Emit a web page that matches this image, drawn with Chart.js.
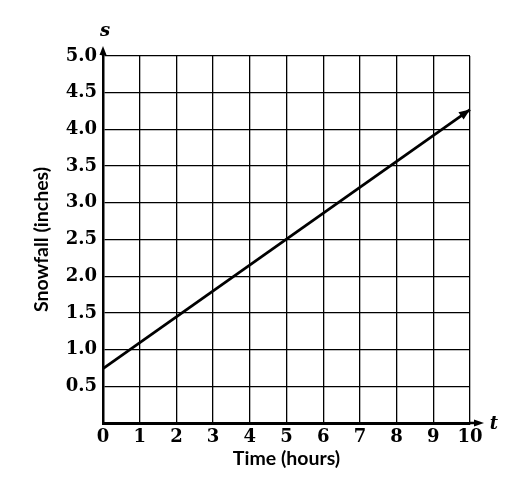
<!DOCTYPE html>
<html><head><meta charset="utf-8">
<script src="https://cdn.jsdelivr.net/npm/chart.js@4.4.1/dist/chart.umd.min.js"></script>
<style>html,body{margin:0;padding:0;background:#fff;}#wrap{width:514px;height:478px;position:relative;}</style>
</head><body><div id="wrap"><canvas id="c"></canvas></div>
<script>
const timeHours = [0, 10];
const snowfall = [0.74, 4.27];
const xTicks = [0,1,2,3,4,5,6,7,8,9,10];
const yTicks = [0.5,1.0,1.5,2.0,2.5,3.0,3.5,4.0,4.5,5.0];
const xTitle = 'Time (hours)';
const yTitle = 'Snowfall (inches)';
const xVar = 't';
const yVar = 's';

const decor = {
  id: 'decor',
  afterDraw(chart) {
    const ctx = chart.ctx, a = chart.chartArea;
    const xs = chart.scales.x, ys = chart.scales.y;
    ctx.save();
    ctx.fillStyle = '#000'; ctx.strokeStyle = '#000'; ctx.lineWidth = 2.5;
    const x0 = xs.getPixelForValue(0), y0 = ys.getPixelForValue(0);
    ctx.beginPath(); ctx.moveTo(x0, a.top); ctx.lineTo(x0, a.top - 4); ctx.stroke();
    ctx.beginPath(); ctx.moveTo(x0, a.top - 10); ctx.lineTo(x0 - 3.5, a.top - 1); ctx.lineTo(x0 + 3.5, a.top - 1); ctx.closePath(); ctx.fill();
    ctx.beginPath(); ctx.moveTo(a.right, y0); ctx.lineTo(a.right + 6, y0); ctx.stroke();
    ctx.beginPath(); ctx.moveTo(a.right + 14, y0); ctx.lineTo(a.right + 4, y0 - 3.5); ctx.lineTo(a.right + 4, y0 + 3.5); ctx.closePath(); ctx.fill();
    const n = timeHours.length;
    const px = xs.getPixelForValue(timeHours[n-1]), py = ys.getPixelForValue(snowfall[n-1]);
    const qx = xs.getPixelForValue(timeHours[n-2]), qy = ys.getPixelForValue(snowfall[n-2]);
    const ang = Math.atan2(py - qy, px - qx);
    const L = 11, W = 4.5;
    ctx.beginPath();
    ctx.moveTo(px, py);
    ctx.lineTo(px - L*Math.cos(ang) + W*Math.sin(ang), py - L*Math.sin(ang) - W*Math.cos(ang));
    ctx.lineTo(px - L*Math.cos(ang) - W*Math.sin(ang), py - L*Math.sin(ang) + W*Math.cos(ang));
    ctx.closePath(); ctx.fill();
    ctx.font = 'italic bold 18px "DejaVu Serif"';
    ctx.textAlign = 'center'; ctx.textBaseline = 'middle';
    ctx.fillText(yVar, x0 + 2, a.top - 25);
    ctx.fillText(xVar, a.right + 24, y0 + 1);
    ctx.restore();
  }
};

new Chart(document.getElementById('c'), {
  type: 'scatter',
  data: {
    datasets: [{
      data: timeHours.map((t, i) => ({x: t, y: snowfall[i]})),
      showLine: true,
      borderColor: '#000',
      borderWidth: 2.8,
      pointRadius: 0,
      clip: false
    }]
  },
  options: {
    responsive: true,
    maintainAspectRatio: false,
    animation: false,
    layout: {padding: {top: 56, right: 44, left: 0, bottom: 0}},
    plugins: {legend: {display: false}, tooltip: {enabled: false}},
    scales: {
      x: {
        type: 'linear', min: 0, max: 10,
        afterBuildTicks(s) { s.ticks = xTicks.map(v => ({value: v})); },
        afterFit(s) { s.height = 55; },
        ticks: {
          color: '#000', padding: 4, maxRotation: 0, autoSkip: false,
          font: {family: 'DejaVu Serif', weight: 'bold', size: 18},
          callback: v => String(v)
        },
        grid: {color: '#000', lineWidth: 1.3, drawTicks: false},
        border: {color: '#000', width: 3},
        title: {display: true, text: xTitle, color: '#000', padding: {top: 0, bottom: 8},
          font: {family: 'Lato', weight: 'bold', size: 19.5}}
      },
      y: {
        type: 'linear', min: 0, max: 5,
        afterBuildTicks(s) { s.ticks = [0].concat(yTicks).map(v => ({value: v})); },
        afterFit(s) { s.width = 103; },
        ticks: {
          color: '#000', padding: 6, autoSkip: false,
          font: {family: 'DejaVu Serif', weight: 'bold', size: 18},
          callback: v => v === 0 ? '' : v.toFixed(1)
        },
        grid: {color: '#000', lineWidth: 1.3, drawTicks: false},
        border: {color: '#000', width: 2.5},
        title: {display: true, text: yTitle, color: '#000', padding: {top: 30, bottom: 0},
          font: {family: 'Lato', weight: 'bold', size: 19.5}}
      }
    }
  },
  plugins: [decor]
});
</script></body></html>
